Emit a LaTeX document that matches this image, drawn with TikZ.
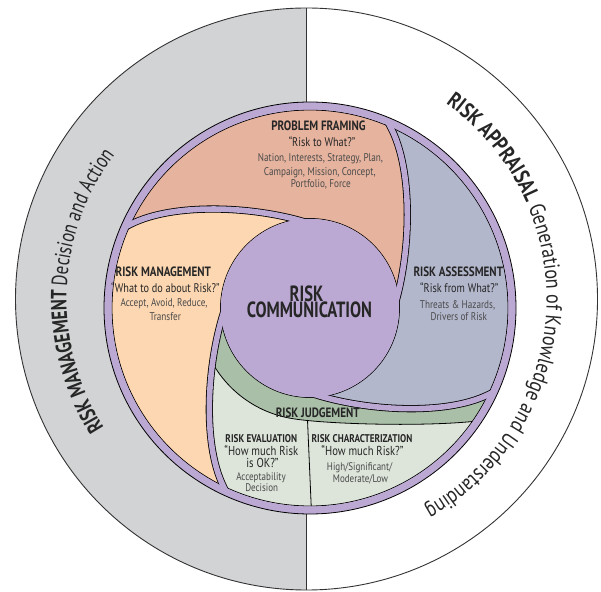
\documentclass[tikz,border=0pt]{standalone}
\usepackage{fontspec}
\usetikzlibrary{decorations.text}
\newfontfamily\cfont[FakeStretch=0.82]{PT Sans}
\newfontfamily\cfontN[FakeStretch=0.75]{PT Sans}
\newfontfamily\cfontL[FakeStretch=0.76]{PT Sans}
\definecolor{ringP}{HTML}{BCA9D3}
\definecolor{outerG}{HTML}{D1D3D4}
\definecolor{pfC}{HTML}{E6B39E}
\definecolor{raC}{HTML}{B3B7CC}
\definecolor{rmC}{HTML}{FCD7B1}
\definecolor{rjC}{HTML}{AABFA8}
\definecolor{rlC}{HTML}{DDE5DA}
\definecolor{txD}{HTML}{262626}
\definecolor{txB}{HTML}{4A4A4A}
\newcommand\spiralcurve[1]{(#1:198) .. controls ({#1-12.65}:172.6) and ({#1-35.7}:116.9) .. ({#1-62}:86)}
\newcommand\spiralgap[1]{({#1+1.35}:201.8) -- \spiralcurve{#1} -- ({#1-65.2}:84.4)}
\newcommand\bladepath[2]{(#1:198) arc[start angle=#1, end angle=#2, radius=198] .. controls ({#2-12.65}:172.6) and ({#2-35.7}:116.9) .. ({#2-62}:86) arc[start angle={#2-62}, end angle={#1-62}, radius=86] .. controls ({#1-35.7}:116.9) and ({#1-12.65}:172.6) .. (#1:198) -- cycle}
\newcommand\arcLB{\cfontL\fontsize{22}{26}\selectfont\bfseries}
\newcommand\arcLR{\cfontL\fontsize{22}{26}\selectfont\mdseries}
\newcommand\arcRB{\cfont\fontsize{22}{26}\selectfont\bfseries}
\newcommand\arcRR{\cfont\fontsize{22}{26}\selectfont\mdseries}
\begin{document}
\begin{tikzpicture}[x=1pt,y=1pt,
  edge/.style={draw=black, line width=0.8pt},
  gap/.style={draw=black, line width=0.8pt, double=ringP, double distance=5.6pt},
  ttl/.style={font=\cfont\bfseries\fontsize{13.5}{15}\selectfont, text=txD, inner sep=0pt, anchor=base},
  sttl/.style={font=\cfont\bfseries\fontsize{11.2}{13}\selectfont, text=txD, inner sep=0pt, anchor=base},
  qt/.style={font=\cfont\fontsize{12.5}{14}\selectfont, text=txD, inner sep=0pt, anchor=base},
  sqt/.style={font=\cfont\fontsize{13}{14}\selectfont, text=txD, inner sep=0pt, anchor=base},
  bd/.style={font=\cfont\fontsize{11.2}{13}\selectfont, text=txB, inner sep=0pt, anchor=base},
  sbd/.style={font=\cfont\fontsize{11}{13}\selectfont, text=txB, inner sep=0pt, anchor=base},
  big/.style={font=\cfontN\bfseries\fontsize{22}{24}\selectfont, text=txD, inner sep=0pt, anchor=base}]
\useasboundingbox (0,0) rectangle (601,591);
\coordinate (O) at (306.5,292);
\coordinate (C) at (310,283);
% outer circle
\fill[outerG] ([shift={(90:291)}]O) arc[start angle=90, end angle=270, radius=291] -- cycle;
\draw[line width=0.9pt, black!80] (O) circle[radius=291];
\draw[line width=0.9pt, black!80] ([shift={(0,291)}]O) -- ([shift={(0,-291)}]O);
% inner wheel
\begin{scope}[shift={(C)}]
  \fill[ringP] (0,0) circle[radius=206];
  \fill[pfC] \bladepath{155}{66};
  \fill[raC] \bladepath{66}{-26};
  \fill[rjC] \bladepath{-26}{-116};
  \fill[rmC] \bladepath{244}{155};
  \begin{scope}
    \clip \bladepath{-26}{-116};
    \fill[rlC] (-160:112) arc[start angle=-160, end angle=-100, radius=112]
      .. controls (12,-116) and (110,-119) .. (-34.5:200) -- (-34.5:260) -- (-90:260) -- (-160:260) -- cycle;
    \draw[edge] (-160:112) arc[start angle=-160, end angle=-100, radius=112]
      .. controls (12,-116) and (110,-119) .. (-34.5:200);
    \draw[edge] (-2.5,-112) -- (1.5,-205);
  \end{scope}
  \draw[edge] (0,0) circle[radius=198];
  \draw[edge] (0,0) circle[radius=89.5];
  \draw[gap] \spiralgap{155};
  \draw[gap] \spiralgap{66};
  \draw[gap] \spiralgap{-26};
  \draw[gap] \spiralgap{-116};
  \fill[ringP, even odd rule] (0,0) circle[radius=205.6] (0,0) circle[radius=198.45];
  \fill[ringP] (0,0) circle[radius=89.15];
  \draw[edge] (0,0) circle[radius=206];
\end{scope}
% arc texts
\path[decorate, decoration={text along path, text align=center, text color=txD,
  text={|\arcLB|RISK MANAGEMENT |\arcLR|Decision and Action}}]
  ([shift={(225:240)}]O) arc[start angle=225, end angle=130.5, radius=240];
\path[decorate, decoration={text along path, text align=center, text color=txD,
  text={|\arcRB|RISK APPRAISAL |\arcRR|Generation of Knowledge and Understanding}}]
  ([shift={(68:240)}]O) arc[start angle=68, end angle=-74, radius=240];
% centre
\node[big] (rc1) at (306.5,289.5) {RISK};
\node[big] (rc2) at (309.4,273.5) {COMMUNICATION};
% problem framing
\node[ttl] (pf1) at (318.5,460.1) {PROBLEM FRAMING};
\node[qt] (pf2) at (322,444.5) {“Risk to What?”};
\node[bd] (pf3) at (320.5,429) {Nation, Interests, Strategy, Plan,};
\node[bd] (pf4) at (319.8,415.6) {Campaign, Mission, Concept,};
\node[bd] (pf5) at (320.8,403) {Portfolio, Force};
% risk management
\node[ttl] (rm1) at (163.3,314.5) {RISK MANAGEMENT};
\node[qt] (rm2) at (165.3,298) {“What to do about Risk?”};
\node[bd] (rm3) at (164,284) {Accept, Avoid, Reduce,};
\node[bd] (rm4) at (165.3,270.6) {Transfer};
% risk assessment
\node[ttl] (ra1) at (458.3,314.5) {RISK ASSESSMENT};
\node[qt] (ra2) at (459.3,298) {“Risk from What?”};
\node[bd] (ra3) at (457.5,282.4) {Threats \& Hazards,};
\node[bd] (ra4) at (458.8,270.7) {Drivers of Risk};
% judgement
\node[ttl] (rj1) at (317.7,173.7) {RISK JUDGEMENT};
\node[sttl] (re1) at (261.3,148.2) {RISK EVALUATION};
\node[sqt] (re2) at (261.3,135.7) {“How much Risk};
\node[sqt] (re3) at (262.5,123.4) {is OK?”};
\node[sbd] (re4) at (261,110.2) {Acceptability};
\node[sbd] (re5) at (261.7,99.8) {Decision};
\node[sttl] (ch1) at (362,148.2) {RISK CHARACTERIZATION};
\node[sqt] (ch2) at (362.5,135.7) {“How much Risk?”};
\node[sbd] (ch3) at (359.7,120.7) {High/Significant/};
\node[sbd] (ch4) at (360.5,108.4) {Moderate/Low};
\end{tikzpicture}
\end{document}
